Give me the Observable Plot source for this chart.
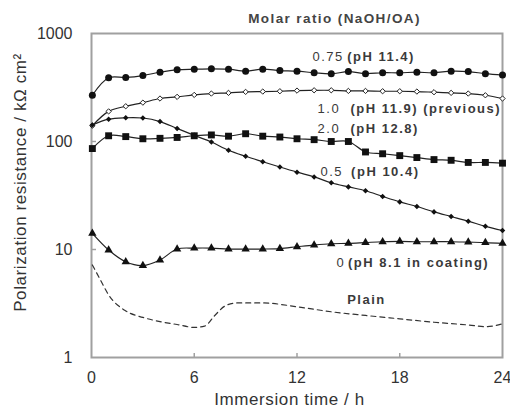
<!DOCTYPE html>
<html><head><meta charset="utf-8">
<script src="https://cdn.jsdelivr.net/npm/d3@7"></script>
<script src="https://cdn.jsdelivr.net/npm/@observablehq/plot@0.6"></script>
<style>body{margin:0;background:#fff}</style>
</head><body><div id="chart"></div>
<script>
// Immersion time (h)
const hours = [0.05,1,2,3,4,5,6,7,8,9,10,11,12,13,14,15,16,17,18,19,20,21,22,23,24];
// Polarization resistance (kΩ cm²) by molar ratio NaOH/OA
const r075 = [268,389,392,408,438,461,467,471,467,448,467,454,448,433,423,444,425,433,433,438,433,448,444,425,412];
const r10  = [140,190,212,229,250,259,270,278,282,288,290,292,296,298,298,294,294,292,292,290,286,282,278,268,250];
const r20  = [86,113,111,106,107,109,113,115,112,118,112,110,106,104,100,100,80,77,74,71,68,67,64,64,63];
const r05  = [142,161,166,165,153,132,114,99,83,73,65,58,52,47,41.5,38,35,31,27.6,25,22.3,20.2,18.3,16.4,15];
const r0   = [14.1,9.9,7.7,7.1,8.0,10.1,10.3,10.3,10.1,10.1,10.1,10.2,10.6,11.0,11.3,11.4,11.6,11.8,11.9,11.8,11.8,11.8,11.7,11.6,11.4];
// Plain (no coating), dashed line
const plainHours = [0.05,0.5,1,2,3,4,5,6,6.6,7.2,7.8,8.5,10,12,14,16,18,20,22,23,24];
const plainVals  = [7.2,5.3,3.8,2.7,2.35,2.15,2.02,1.9,1.95,2.45,3.0,3.2,3.2,2.95,2.65,2.45,2.28,2.12,2.0,1.93,2.05];

const xTicks = [0,6,12,18,24];
const yTicks = [1,10,100,1000];

// Annotation labels
const labelNum = ["0.75","1.0","2.0","0.5","0"];
const labelPh  = ["(pH 11.4)","(pH 11.9) (previous)","(pH 12.8)","(pH 10.4)","(pH 8.1 in coating)"];
const labelNumT = [12.9,13.2,13.2,13.37,14.3];
const labelPhT  = [14.93,15.12,15.12,15.16,14.98];
const labelV    = [562,182,118.6,48.4,6.86];
const plainLabel = {text:"Plain", t:14.93, v:3.14};
const legendTitle = {text:"Molar ratio (NaOH/OA)", t:9.15, v:1238};

const series = [
  {name:"0.75", values:r075, symbol:"circle",   r:3.5, fill:"#111", stroke:"none"},
  {name:"1.0",  values:r10,  symbol:"diamond2", r:2.4, fill:"#fff", stroke:"#222"},
  {name:"2.0",  values:r20,  symbol:"square",   r:3.9, fill:"#111", stroke:"none"},
  {name:"0.5",  values:r05,  symbol:"diamond2", r:2.5, fill:"#111", stroke:"none"},
  {name:"0",    values:r0,   symbol:"triangle", r:3.1, fill:"#111", stroke:"none"}
];
const rowsOf = s => hours.map((t,i) => ({t, v:s.values[i]}));
const plainRows = plainHours.map((t,i) => ({t, v:plainVals[i]}));
const labels = labelNum.map((n,i) => ({n, ph:labelPh[i], tn:labelNumT[i], tp:labelPhT[i], v:labelV[i]}));

const marks = [
  Plot.frame({stroke:"#a0a0a0", strokeWidth:2}),
  Plot.tickX([6,12,18], {x:d=>d, insetTop:320, stroke:"#a0a0a0", strokeWidth:1.5}),
  Plot.tickY([10,100], {y:d=>d, insetRight:406, stroke:"#a0a0a0", strokeWidth:1.5}),
  Plot.axisX({ticks:xTicks, tickSize:0, tickPadding:14, fontSize:16, color:"#333", label:null}),
  Plot.axisY({ticks:yTicks, tickFormat:d=>String(d), tickSize:0, tickPadding:19, fontSize:16, color:"#333", label:null}),
  Plot.line(plainRows, {x:"t", y:"v", curve:"monotone-x", stroke:"#333", strokeWidth:1.2, strokeDasharray:"5,4"})
];
for (const s of series) {
  marks.push(Plot.line(rowsOf(s), {x:"t", y:"v", curve:"catmull-rom", stroke:"#222", strokeWidth:1.2}));
}
for (const s of series) {
  marks.push(Plot.dot(rowsOf(s), {x:"t", y:"v", symbol:s.symbol, r:s.r, fill:s.fill, stroke:s.stroke, strokeWidth:1}));
}
marks.push(
  Plot.text(labels, {x:"tn", y:"v", text:"n", textAnchor:"start", lineAnchor:"bottom", fontSize:13, fill:"#3a3a3a"}),
  Plot.text(labels, {x:"tp", y:"v", text:"ph", textAnchor:"start", lineAnchor:"bottom", fontSize:13, fontWeight:"bold", fill:"#3a3a3a"}),
  Plot.text([plainLabel], {x:"t", y:"v", text:"text", textAnchor:"start", lineAnchor:"bottom", fontSize:13, fontWeight:"bold", fill:"#3a3a3a"}),
  Plot.text([legendTitle], {x:"t", y:"v", text:"text", textAnchor:"start", lineAnchor:"bottom", fontSize:13.5, fontWeight:"bold", fill:"#444"}),
  Plot.text(["Immersion time / h"], {frameAnchor:"bottom", text:d=>d, textAnchor:"middle", dx:-7.5, dy:47, lineAnchor:"bottom", fontSize:17, fill:"#333"}),
  Plot.text(["Polarization resistance / kΩ cm²"], {frameAnchor:"left", text:d=>d, textAnchor:"middle", rotate:-90, dx:-71, dy:-13, lineAnchor:"middle", fontSize:17, fill:"#333"})
);

const chart = Plot.plot({
  width:510, height:409,
  marginLeft:91, marginRight:8, marginTop:33, marginBottom:52,
  style:{fontFamily:"'Liberation Sans', Arial, sans-serif", background:"#fff"},
  x:{domain:[0,24], label:null},
  y:{type:"log", domain:[1,1000], label:null},
  marks
});
document.getElementById("chart").appendChild(chart);

// letter spacing tweaks for text marks
d3.select(chart).selectAll('g[aria-label="text"]').each(function(){
  const fs = +this.getAttribute("font-size");
  const ls = fs === 13 ? 1.5 : fs === 13.5 ? 1.4 : fs === 17 ? 0.6 : 0;
  d3.select(this).selectAll("text").attr("letter-spacing", ls);
});
</script>
</body></html>
